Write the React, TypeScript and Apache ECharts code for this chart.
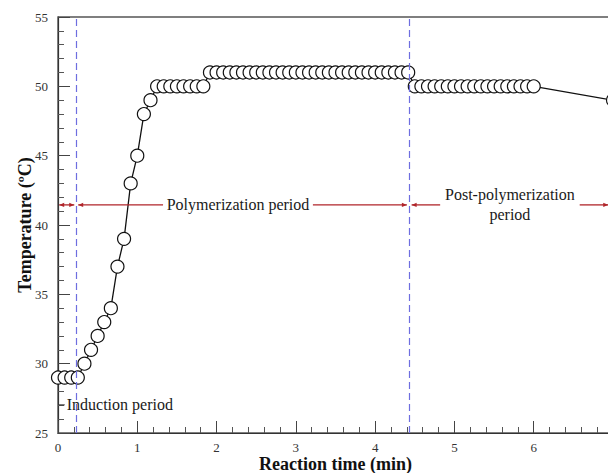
import React, { useEffect, useRef } from "react";
import * as echarts from "echarts";

// Reaction time in seconds (sampled every 5 s), converted to minutes for the axis
const timeSec = [
  0, 5, 10, 15, 20, 25, 30, 35, 40, 45, 50, 55, 60, 65, 70,
  75, 80, 85, 90, 95, 100, 105, 110,
  115, 120, 125, 130, 135, 140, 145, 150, 155, 160, 165, 170, 175, 180, 185, 190,
  195, 200, 205, 210, 215, 220, 225, 230, 235, 240, 245, 250, 255, 260, 265,
  270, 275, 280, 285, 290, 295, 300, 305, 310, 315, 320, 325, 330, 335, 340, 345,
  350, 355, 360,
  420,
];
const temperature = [
  29, 29, 29, 29, 30, 31, 32, 33, 34, 37, 39, 43, 45, 48, 49,
  50, 50, 50, 50, 50, 50, 50, 50,
  51, 51, 51, 51, 51, 51, 51, 51, 51, 51, 51, 51, 51, 51, 51, 51,
  51, 51, 51, 51, 51, 51, 51, 51, 51, 51, 51, 51, 51, 51, 51,
  50, 50, 50, 50, 50, 50, 50, 50, 50, 50, 50, 50, 50, 50, 50, 50,
  50, 50, 50,
  49,
];

// Period boundaries (min)
const boundaries = [0.23, 4.43];
const arrowY = 41.45;
// arrow segments: [xStart, xEnd, arrowAtStart, arrowAtEnd]
const arrowSegments: [number, number, boolean, boolean][] = [
  [0.015, 0.205, true, true],
  [0.255, 1.325, true, false],
  [3.215, 4.4, false, true],
  [4.46, 4.82, true, false],
  [6.58, 6.94, false, true],
];
const periodLabels = [
  { text: "Polymerization period", x: 2.27, y: 41.45, align: "center" },
  { text: "Post-polymerization\nperiod", x: 5.7, y: 41.45, align: "center" },
  { text: "Induction period", x: 0.11, y: 27.03, align: "left" },
];
const inductionLeader = [0.01, 0.085, 27.03];

const xTicks = { min: 0, max: 7, interval: 1 };
const yTicks = { min: 25, max: 55, interval: 5 };

const SERIF = "Liberation Serif";

export default function App() {
  const ref = useRef<HTMLDivElement>(null);
  useEffect(() => {
    if (!ref.current) return;
    const chart = echarts.init(ref.current, null, { renderer: "svg" });
    const data = timeSec.map((s, i) => [s / 60, temperature[i]]);
    chart.setOption({
      animation: false,
      grid: {
        left: 58,
        top: 17,
        width: 555,
        height: 416,
        outerBoundsMode: "none",
        containLabel: false,
        show: true,
        borderColor: "#555",
        borderWidth: 1.4,
        backgroundColor: "transparent",
      },
      xAxis: {
        type: "value",
        min: xTicks.min,
        max: xTicks.max,
        interval: xTicks.interval,
        name: "Reaction time (min)",
        nameLocation: "middle",
        nameGap: 22,
        nameMoveOverlap: false,
        nameTextStyle: { fontFamily: SERIF, fontWeight: "bold", fontSize: 18, color: "#111" },
        axisLine: { lineStyle: { color: "#333", width: 1.2 } },
        axisTick: { inside: true, length: 12, lineStyle: { color: "#444", width: 1 } },
        minorTick: { show: true, splitNumber: 5, length: 6, lineStyle: { color: "#555", width: 1 } },
        axisLabel: { fontFamily: SERIF, fontSize: 13, lineHeight: 13, color: "#333", margin: 8, showMaxLabel: false },
        splitLine: { show: false },
      },
      yAxis: {
        type: "value",
        min: yTicks.min,
        max: yTicks.max,
        interval: yTicks.interval,
        name: "Temperature (ºC)",
        nameLocation: "middle",
        nameGap: 24,
        nameMoveOverlap: false,
        nameTextStyle: { fontFamily: SERIF, fontWeight: "bold", fontSize: 18, color: "#111" },
        axisLine: { lineStyle: { color: "#333", width: 1.2 } },
        axisTick: { inside: true, length: 12, lineStyle: { color: "#444", width: 1 } },
        minorTick: { show: true, splitNumber: 5, length: 6, lineStyle: { color: "#555", width: 1 } },
        axisLabel: { fontFamily: SERIF, fontSize: 13, color: "#333", margin: 10 },
        splitLine: { show: false },
      },
      series: [
        {
          type: "line",
          data,
          symbol: "circle",
          symbolSize: 13,
          showAllSymbol: true,
          lineStyle: { color: "#111", width: 1.3 },
          itemStyle: { color: "#fff", borderColor: "#111", borderWidth: 1.2 },
          markLine: {
            silent: true,
            symbol: "none",
            label: { show: false },
            lineStyle: { color: "#6e6ee0", type: [7, 4], width: 1.2 },
            data: boundaries.map((b) => ({ xAxis: b })),
          },
        },
      ],
    });

    const px = (x: number, y: number) =>
      chart.convertToPixel({ gridIndex: 0 }, [x, y]) as number[];
    const red = "#b0252a";
    const elements: any[] = [];
    const head = (tipX: number, tipY: number, dir: number) => ({
      type: "polygon",
      shape: {
        points: [
          [tipX, tipY],
          [tipX - dir * 5, tipY - 2.2],
          [tipX - dir * 5, tipY + 2.2],
        ],
      },
      style: { fill: red },
      z: 10,
    });
    arrowSegments.forEach(([a, b, sa, ea]) => {
      const p1 = px(a, arrowY);
      const p2 = px(b, arrowY);
      elements.push({
        type: "line",
        shape: { x1: p1[0], y1: p1[1], x2: p2[0], y2: p2[1] },
        style: { stroke: red, lineWidth: 1.3 },
        z: 10,
      });
      if (sa) elements.push(head(p1[0], p1[1], -1));
      if (ea) elements.push(head(p2[0], p2[1], 1));
    });
    periodLabels.forEach((l) => {
      const p = px(l.x, l.y);
      elements.push({
        type: "text",
        x: p[0],
        y: p[1],
        style: {
          text: l.text,
          fontFamily: SERIF,
          fontSize: 16,
          lineHeight: 20,
          fill: "#1a1a1a",
          align: l.align,
          verticalAlign: "middle",
        },
        z: 10,
      });
    });
    const q1 = px(inductionLeader[0], inductionLeader[2]);
    const q2 = px(inductionLeader[1], inductionLeader[2]);
    elements.push({
      type: "line",
      shape: { x1: q1[0], y1: q1[1], x2: q2[0], y2: q2[1] },
      style: { stroke: "#333", lineWidth: 1 },
      z: 10,
    });
    chart.setOption({ graphic: elements });

    return () => chart.dispose();
  }, []);
  return (
    <div
      ref={ref}
      style={{ position: "fixed", left: 0, top: 0, width: 608, height: 473, background: "#fff" }}
    />
  );
}
